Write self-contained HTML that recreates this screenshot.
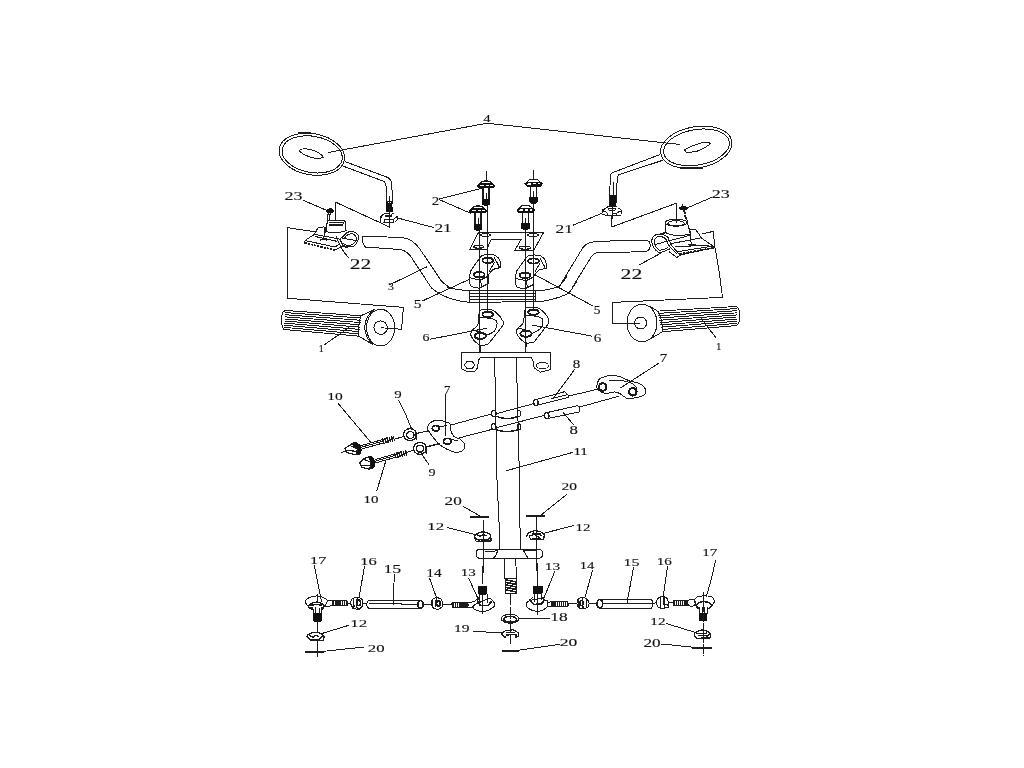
<!DOCTYPE html>
<html lang="en">
<head>
<meta charset="utf-8">
<title>Steering assembly parts diagram</title>
<style>
html,body{margin:0;padding:0;background:#fff;}
body{width:1024px;height:768px;overflow:hidden;}
svg{display:block;opacity:0.999;will-change:transform;}
.d{fill:none;stroke:#1c1c1c;stroke-linecap:round;stroke-linejoin:round;}
.d text{fill:#111;stroke:#111;stroke-width:0.12px;font-family:"Liberation Serif","DejaVu Serif",serif;}
.f{fill:#111;stroke:#111;}
.w{fill:#fff;}
</style>
</head>
<body>
<svg width="1024" height="768" viewBox="0 0 1024 768">
<rect width="1024" height="768" fill="#fff"/>
<g class="d" shape-rendering="crispEdges">
<g transform="translate(0 0) scale(1.0)" stroke-width="1">
<!-- leader for 4 -->
<path d="M328.3,152.5 L487.1,123.2 L680,144.5"/>
<!-- centre lines through bolts/clamps -->
<path d="M487.5,205 L487.5,311 M479.5,230.5 L479.5,352.5 M533.5,204 L533.5,311 M525.5,230.5 L525.5,352.5"/>
<!-- steering stem edges -->
<path d="M494.5,357.5 L494.5,376 L495.5,378 L495.5,400 L497,480 L499.4,530 L499.5,549.4"/>
<path d="M516.5,357.5 L516.5,382 L517.5,384 L517.5,400 L519.5,480 L519.5,526 L520.6,530 L520.75,549.4"/>

</g>
<g transform="translate(0 0) scale(1.0)" stroke-width="1">
<!-- part number labels -->
<text x="483.2" y="122.2" font-size="10.1" textLength="7.3" lengthAdjust="spacingAndGlyphs">4</text>
<text x="284.6" y="200.3" font-size="13.2" textLength="18.0" lengthAdjust="spacingAndGlyphs">23</text>
<text x="349.8" y="268.5" font-size="14.2" textLength="21.4" lengthAdjust="spacingAndGlyphs">22</text>
<text x="434.4" y="232.0" font-size="12.0" textLength="17.4" lengthAdjust="spacingAndGlyphs">21</text>
<text x="431.8" y="205.0" font-size="11.8" textLength="7.5" lengthAdjust="spacingAndGlyphs">2</text>
<text x="388.0" y="290.4" font-size="11.2" textLength="5.9" lengthAdjust="spacingAndGlyphs">3</text>
<text x="555.5" y="233.0" font-size="12.2" textLength="17.4" lengthAdjust="spacingAndGlyphs">21</text>
<text x="620.5" y="278.9" font-size="13.9" textLength="21.8" lengthAdjust="spacingAndGlyphs">22</text>
<text x="711.7" y="197.6" font-size="12.0" textLength="18.0" lengthAdjust="spacingAndGlyphs">23</text>
<text x="318.8" y="351.8" font-size="9.7" textLength="5.0" lengthAdjust="spacingAndGlyphs">1</text>
<text x="716.0" y="349.9" font-size="11.1" textLength="5.5" lengthAdjust="spacingAndGlyphs">1</text>
<text x="413.8" y="307.8" font-size="11.6" textLength="7.8" lengthAdjust="spacingAndGlyphs">5</text>
<text x="593.7" y="313.6" font-size="12.0" textLength="6.7" lengthAdjust="spacingAndGlyphs">5</text>
<text x="422.6" y="341.3" font-size="10.8" textLength="7.0" lengthAdjust="spacingAndGlyphs">6</text>
<text x="593.7" y="341.8" font-size="12.1" textLength="7.6" lengthAdjust="spacingAndGlyphs">6</text>
<text x="659.8" y="361.8" font-size="11.5" textLength="7.5" lengthAdjust="spacingAndGlyphs">7</text>
<text x="443.9" y="394.1" font-size="11.7" textLength="6.4" lengthAdjust="spacingAndGlyphs">7</text>
<text x="572.8" y="368.0" font-size="11.8" textLength="7.5" lengthAdjust="spacingAndGlyphs">8</text>
<text x="569.4" y="434.0" font-size="12.6" textLength="8.4" lengthAdjust="spacingAndGlyphs">8</text>
<text x="394.2" y="397.8" font-size="11.1" textLength="7.4" lengthAdjust="spacingAndGlyphs">9</text>
<text x="428.6" y="475.5" font-size="11.1" textLength="7.0" lengthAdjust="spacingAndGlyphs">9</text>
<text x="327.3" y="400.0" font-size="10.1" textLength="15.5" lengthAdjust="spacingAndGlyphs">10</text>
<text x="363.6" y="502.8" font-size="10.0" textLength="14.9" lengthAdjust="spacingAndGlyphs">10</text>
<text x="573.4" y="455.0" font-size="10.9" textLength="14.5" lengthAdjust="spacingAndGlyphs">11</text>
<text x="427.3" y="530.2" font-size="10.2" textLength="16.8" lengthAdjust="spacingAndGlyphs">12</text>
<text x="575.5" y="531.3" font-size="10.9" textLength="14.9" lengthAdjust="spacingAndGlyphs">12</text>
<text x="350.3" y="627.0" font-size="10.9" textLength="17.0" lengthAdjust="spacingAndGlyphs">12</text>
<text x="650.3" y="625.2" font-size="10.3" textLength="15.2" lengthAdjust="spacingAndGlyphs">12</text>
<text x="460.8" y="575.6" font-size="10.4" textLength="15.0" lengthAdjust="spacingAndGlyphs">13</text>
<text x="544.8" y="570.0" font-size="11.1" textLength="15.5" lengthAdjust="spacingAndGlyphs">13</text>
<text x="426.3" y="577.0" font-size="11.8" textLength="15.5" lengthAdjust="spacingAndGlyphs">14</text>
<text x="579.7" y="569.0" font-size="11.1" textLength="14.6" lengthAdjust="spacingAndGlyphs">14</text>
<text x="383.4" y="573.0" font-size="12.4" textLength="17.9" lengthAdjust="spacingAndGlyphs">15</text>
<text x="623.4" y="565.9" font-size="11.1" textLength="16.1" lengthAdjust="spacingAndGlyphs">15</text>
<text x="360.3" y="564.6" font-size="11.2" textLength="16.5" lengthAdjust="spacingAndGlyphs">16</text>
<text x="656.7" y="565.0" font-size="10.4" textLength="15.1" lengthAdjust="spacingAndGlyphs">16</text>
<text x="310.1" y="564.0" font-size="10.4" textLength="16.2" lengthAdjust="spacingAndGlyphs">17</text>
<text x="702.3" y="556.4" font-size="10.6" textLength="15.0" lengthAdjust="spacingAndGlyphs">17</text>
<text x="550.3" y="620.6" font-size="12.0" textLength="17.4" lengthAdjust="spacingAndGlyphs">18</text>
<text x="454.1" y="632.2" font-size="10.7" textLength="15.5" lengthAdjust="spacingAndGlyphs">19</text>
<text x="444.6" y="505.0" font-size="11.8" textLength="17.2" lengthAdjust="spacingAndGlyphs">20</text>
<text x="561.5" y="490.0" font-size="11.1" textLength="15.5" lengthAdjust="spacingAndGlyphs">20</text>
<text x="559.7" y="645.6" font-size="11.2" textLength="17.6" lengthAdjust="spacingAndGlyphs">20</text>
<text x="367.8" y="651.8" font-size="10.7" textLength="16.8" lengthAdjust="spacingAndGlyphs">20</text>
<text x="643.5" y="647.0" font-size="11.5" textLength="17.2" lengthAdjust="spacingAndGlyphs">20</text>

</g>
<g transform="translate(256 192) scale(0.125)" stroke-width="8">
<!-- label 23 + leader -->
<path d="M375,65 L572,150"/>
<!-- bracket lines -->
<path d="M638,225 L638,82 L1068,280 L1068,222"/>
<path d="M470,318 L250,285 L250,850 L1179,923 L1165,1098 L1000,1086"/>
<!-- 22 label + leader -->
<path d="M640,352 Q690,480 742,525"/>

</g>
<g transform="translate(256 288) scale(0.125)" stroke-width="8">
<!-- left grip -->
<path d="M235,180 L840,222 M234,197 L838,240 M233,214 L836,258 M232,231 L833,276 M231,248 L831,294 M229,264 L829,313 M228,281 L827,331 M227,298 L824,349 M226,315 L822,367 M225,332 L820,385"/>
<path d="M235,180 Q200,190 205,260 Q205,320 225,332"/>
<path d="M840,222 Q815,300 820,385"/>
<path d="M840,222 L945,172 M820,385 L935,452"/>
<path d="M945,172 Q870,230 870,315 Q872,400 935,452"/>
<path d="M885.0,317.0 A112,147 0 1 0 1109.0,317.0 A112,147 0 1 0 885.0,317.0 Z"/>
<path d="M943.0,317.0 A54,54 0 1 0 1051.0,317.0 A54,54 0 1 0 943.0,317.0 Z"/>
<!-- label 1 -->
<path d="M545,455 L740,320"/>

</g>
<g transform="translate(256 96) scale(0.125)" stroke-width="8">
<!-- left mirror -->
<path d="M186.0,420.0 A265,165 10 1 0 708.0,512.0 A265,165 10 1 0 186.0,420.0 Z"/>
<path d="M209.7,424.8 A243,144 10 1 0 688.3,509.2 A243,144 10 1 0 209.7,424.8 Z"/>
<path d="M345,437 Q368,412 430,428 Q505,442 540,490 Q500,508 440,490 Q368,468 345,437 Z"/>
<path d="M345,294 L440,297" stroke-width="12"/>
<!-- stem -->
<path d="M712,525 L1045,648 Q1078,660 1086,700 L1093,864"/>
<path d="M700,562 L1015,680 Q1038,690 1040,720 L1046,864"/>

</g>
<g transform="translate(288 544) scale(0.125)" stroke-width="8">
<!-- labels 17,16,15 left -->
<path d="M210,170 L268,460"/>
<path d="M612,178 L568,430"/>
<path d="M850,240 L843,485"/>
<!-- ball joint 17 left -->
<path d="M138,462 Q145,425 228,415 Q290,420 318,455 Q300,500 270,510 M138,462 Q150,500 185,510"/>
<path d="M165,500 Q170,470 228,465 Q285,470 290,498 Q280,525 268,520 M165,500 Q175,525 195,520" stroke-width="12"/>
<path d="M185,490 Q228,478 270,490" stroke-width="12"/>
<path d="M198,505 L205,560 M268,505 L268,560 M222,510 L222,555 M248,510 L248,555"/>
<rect class="f" x="200" y="558" width="70" height="58" rx="8"/>
<path d="M235,400 L235,470 M235,616 L235,700 M235,780 L235,900"/>
<path d="M318,455 L355,452 M300,498 L355,495"/>
<!-- threaded rod -->
<rect x="355" y="452" width="120" height="43" rx="10"/>
<path d="M360,474 L472,474" stroke-width="34" stroke-linecap="butt" stroke-dasharray="11 6"/>
<path d="M475,472 L498,472"/>
<!-- nut 16 -->
<path d="M498,472 L515,435 L570,425 L598,450 L600,495 L565,525 L520,515 Z"/>
<path d="M525,440 L528,505 M555,428 L545,500 L565,522" stroke-width="10"/>
<path d="M549.0,470.0 A16,22 0 1 0 581.0,470.0 A16,22 0 1 0 549.0,470.0 Z" stroke-width="14"/>
<path d="M600,472 L630,472"/>
<!-- tube 15 -->
<path d="M645,452 L1060,452 Q1085,455 1087,483 Q1085,512 1060,515 L645,515 Q630,500 630,483 Q630,465 645,452 Z"/>
<path d="M1038.0,483.0 A22,30 0 1 0 1082.0,483.0 A22,30 0 1 0 1038.0,483.0 Z" stroke-width="12"/>
<path d="M640,472 L910,478 M910,486 L1040,486"/>
<path d="M1087,483 L1146,483"/>
<!-- nut 12 bottom left, 12 label -->
<path d="M150,740 Q160,715 215,705 Q275,712 288,740 L285,770 L180,772 Z" stroke-width="10"/>
<path d="M175,735 L200,745 L220,730 L245,742 M160,750 L190,770 M275,740 L250,765 L200,762" stroke-width="11"/>
<path d="M275,715 L488,650"/>
<!-- bar 20 left -->
<path d="M135,862 L290,862" stroke-width="15" stroke-linecap="butt"/>
<path d="M290,858 L610,824"/>

</g>
<g transform="translate(296 200) scale(0.078125)" stroke-width="12.8">
<!-- screw 23 left -->
<path class="f" d="M385,135 L440,105 L482,140 L455,165 L400,160 Z"/>
<path d="M412,165 L398,300 M438,168 L425,262" stroke-dasharray="22 10" stroke-width="14"/>
<!-- housing -->
<path d="M415,262 L615,262 L635,280 L635,380 M395,300 L385,405 Q500,440 635,395 L700,400"/>
<path d="M420,282 L608,282 L600,318"/>
<path d="M422,320 L600,318" stroke-width="20" stroke-linecap="butt"/>
<path d="M235,440 L285,350 L360,345 L372,410"/>
<path d="M110,545 L120,515 L235,440 L560,500 L600,470"/>
<path d="M130,522 L500,602 L560,560"/>
<path d="M108,548 L500,642" stroke-width="22" stroke-dasharray="30 12" stroke-linecap="butt"/>
<path d="M500,642 L590,592 L660,610"/>
<path d="M310,515 Q350,495 390,512" stroke-width="18"/>
<!-- ring -->
<path d="M605,470 Q640,405 710,402 Q790,415 800,465 Q800,540 740,590 Q680,615 600,580"/>
<path d="M625,482 Q660,432 720,430 Q772,450 775,500 Q760,560 690,582 Q650,585 610,560"/>
<path d="M600,490 L780,520 M560,500 L600,580"/>
<path d="M395,300 L372,410 L352,500" stroke-dasharray="26 10" stroke-width="14"/>
<path d="M250,468 L520,528 M560,500 L640,420 M600,580 L640,600"/>

</g>
<g transform="translate(320 384) scale(0.125)" stroke-width="8">
<!-- 10 upper -->
<path d="M145,155 L405,465"/>
<!-- bolt 10 upper -->
<path class="f" d="M250,478 L285,465 L320,490 L332,530 L318,560 L290,565 L300,520 Z"/>
<path d="M200,515 L235,490 L285,470 M200,515 L215,548 L270,562 L318,560 M235,490 L300,520 L290,565 M215,530 L290,540" stroke-width="10"/>
<path d="M170,548 L205,540"/>
<path d="M330,492 L500,445 M335,520 L505,472 M332,505 L500,458"/>
<path d="M500,458 L595,435" stroke-width="44" stroke-linecap="butt" stroke-dasharray="13 5"/>
<path d="M600,440 L670,420"/>
<!-- washer 9 upper -->
<path d="M668.0,405.0 A52,48 0 1 0 772.0,405.0 A52,48 0 1 0 668.0,405.0 Z" stroke-width="11"/>
<path d="M692.0,408.0 A30,27 0 1 0 752.0,408.0 A30,27 0 1 0 692.0,408.0 Z" stroke-width="11"/>
<path d="M768,400 L770,440" stroke-width="14"/>
<path d="M775,395 L865,375"/>
<path d="M628,130 L680,230 L735,365"/>
<!-- bolt 10 lower -->
<path class="f" d="M385,585 L410,582 L438,612 L440,650 L415,678 L400,640 L405,610 Z" />
<path d="M318,632 L345,600 L392,582 M318,632 L335,668 L390,680 L420,675 M345,600 L405,625 L400,675 M330,650 L400,650" stroke-width="10"/>
<path d="M440,605 L600,560 M442,632 L610,585 M440,618 L600,572"/>
<path d="M595,575 L700,548" stroke-width="44" stroke-linecap="butt" stroke-dasharray="13 5"/>
<path d="M700,545 L750,530"/>
<!-- washer 9 lower -->
<path d="M748.0,515.0 A52,48 0 1 0 852.0,515.0 A52,48 0 1 0 748.0,515.0 Z" stroke-width="11"/>
<path d="M770.0,518.0 A30,27 0 1 0 830.0,518.0 A30,27 0 1 0 770.0,518.0 Z" stroke-width="11"/>
<path d="M848,510 L850,550" stroke-width="14"/>
<path d="M855,500 L940,480"/>
<path d="M822,575 L868,640"/>
<!-- 10 lower label -->
<path d="M525,620 L455,853"/>
<!-- 7 left label + leader -->
<path d="M1003,80 L1003,413"/>

</g>
<g transform="translate(364 196) scale(0.0390625)" stroke-width="25.6">
<!-- mirror thread + nut 21 left -->
<path class="f" stroke="none" d="M568,135 L715,135 L715,280 L740,290 L740,400 L568,400 Z"/>
<path class="w" stroke="none" d="M612,152 L640,152 L640,180 L612,180 Z M668,152 L694,152 L694,180 L668,180 Z"/>
<path d="M650,0 L650,768"/>
<path d="M420,660 L425,540 Q470,445 640,438 M730,445 L760,445"/>
<path d="M545,512 L700,512 L705,490" stroke-width="40"/>
<path d="M525,610 L750,610 L750,680 L495,680 L525,650 Z" stroke-width="32"/>
<path d="M775,575 L850,525 L862,600 L800,655" stroke-width="30"/>
<path d="M417.0,535.0 A18,18 0 1 0 453.0,535.0 A18,18 0 1 0 417.0,535.0 Z" class="f" stroke="none"/>

</g>
<g transform="translate(384 192) scale(0.125)" stroke-width="8">
<path d="M110,208 L400,285"/>
<!-- label 2 + leaders -->
<path d="M445,55 L782,-30 M445,62 L692,170"/>
<!-- handlebar left bend -->
<path d="M-170,352 Q-185,398 -150,440 L130,460 Q190,470 230,540 L380,768"/>
<path d="M-170,352 L150,365 Q230,375 290,460 L450,700 Q490,750 540,768"/>
<!-- 3 leader -->
<path d="M340,600 L40,745"/>


</g>
<g transform="translate(384 544) scale(0.125)" stroke-width="8">
<!-- nut 14 left -->
<path d="M365,275 L420,430"/>
<path d="M378,482 L385,445 L420,425 L455,440 L470,470 L465,505 L430,525 L395,515 Z"/>
<path d="M385,450 L392,510 M420,428 L410,500" stroke-width="10"/>
<path d="M421.0,476.0 A14,20 0 1 0 449.0,476.0 A14,20 0 1 0 421.0,476.0 Z" stroke-width="13"/>
<path d="M470,483 L545,483"/>
<rect x="545" y="465" width="125" height="45" rx="10"/>
<path d="M550,488 L668,488" stroke-width="36" stroke-linecap="butt" stroke-dasharray="11 6"/>
<path d="M670,470 L722,460 M670,505 L710,510"/>
<!-- 13 left label handled elsewhere -->

</g>
<g transform="translate(416 400) scale(0.125)" stroke-width="8">
<!-- bracket 7 left -->
<path d="M95,215 Q100,185 140,168 Q185,155 240,175 Q275,185 280,205 Q268,240 300,290 Q320,305 350,312 Q385,335 390,362 Q390,395 365,410 Q330,425 300,415 Q240,395 190,360 Q150,320 95,240 Z"/>
<path d="M130.0,226.0 A28,22 0 1 0 186.0,226.0 A28,22 0 1 0 130.0,226.0 Z" stroke-width="14"/>
<path d="M220.0,330.0 A30,22 0 1 0 280.0,330.0 A30,22 0 1 0 220.0,330.0 Z" stroke-width="14"/>
<path d="M190,212 L245,205 M283,318 L330,322"/>
<!-- rods through bracket -->
<path d="M280,200 L604,112 M350,302 L604,236 M90,375 L190,350"/>

</g>
<g transform="translate(448 160) scale(0.125)" stroke-width="8">
<defs>
<g id="bolt">
<path d="M-48,30 Q-44,6 -10,3 L14,3 Q44,6 50,30" stroke-width="9"/>
<path class="f" stroke="none" d="M-70,40 L-52,26 L54,26 L72,40 L56,58 L-54,58 Z"/>
<path class="w" stroke="none" d="M-46,32 L-18,32 L-18,46 L-50,46 Z M-4,32 L20,32 L20,44 L-4,44 Z M32,32 L52,34 L56,44 L32,44 Z"/>
<path d="M-24,58 L-24,150 M24,58 L24,150" stroke-width="10"/>
<path d="M2,105 L2,140" stroke-width="9"/>
<path class="f" stroke="none" d="M-29,148 L29,148 L29,186 Q20,200 0,198 Q-20,200 -29,186 Z"/>
</g>
</defs>
<use href="#bolt" x="304" y="165"/>
<use href="#bolt" x="240" y="365"/>
<use href="#bolt" x="684" y="150"/>
<use href="#bolt" x="620" y="360"/>
<path d="M308,95 L308,165 M684,80 L684,150" />
<!-- plate -->
<path d="M245,578 L765,578 L685,725 L535,722 L585,635 L345,635 L310,718 L175,715 Z"/>
<path d="M260.0,600.0 A40,10 0 1 0 340.0,600.0 A40,10 0 1 0 260.0,600.0 Z"/>
<path d="M207.0,694.0 A38,12 0 1 0 283.0,694.0 A38,12 0 1 0 207.0,694.0 Z" stroke-width="11"/>
<path d="M632.0,600.0 A48,10 0 1 0 728.0,600.0 A48,10 0 1 0 632.0,600.0 Z"/>
<path d="M570.0,702.0 A45,12 0 1 0 660.0,702.0 A45,12 0 1 0 570.0,702.0 Z" stroke-width="11"/>

</g>
<g transform="translate(448 240) scale(0.125)" stroke-width="8">
<!-- upper clamps (5) -->
<defs>
<g id="c5">
<path d="M-48,-38 Q-20,-50 12,-48 Q45,-48 62,-38 Q90,-20 97,-3 Q106,30 102,57 L42,72 L2,117 L2,187 L-68,222 Q-110,222 -133,207 Q-150,180 -148,157 Q-148,120 -133,77 L-68,-13 Z"/>
<path d="M-42.0,0.0 A42,20 0 1 0 42.0,0.0 A42,20 0 1 0 -42.0,0.0 Z" stroke-width="15"/>
<path d="M-111.0,115.0 A43,21 0 1 0 -25.0,115.0 A43,21 0 1 0 -111.0,115.0 Z" stroke-width="15"/>
<path d="M52,-25 L92,52 M12,87 L52,17 M-143,137 L-118,147 L-58,157 L-48,210 M-58,157 L2,127"/>
</g>
<g id="c6">
<path d="M-65,-33 Q-20,-42 35,-35 Q90,-8 123,57 Q127,87 115,97 L5,237 Q-25,249 -55,247 Q-110,227 -135,167 Q-137,137 -125,127 Q-85,97 -77,77 L-75,27 Z"/>
<path d="M-42.0,0.0 A42,20 0 1 0 42.0,0.0 A42,20 0 1 0 -42.0,0.0 Z" stroke-width="15"/>
<path d="M-106.0,172.0 A46,24 0 1 0 -14.0,172.0 A46,24 0 1 0 -106.0,172.0 Z" stroke-width="16"/>
<path d="M-55,27 Q45,27 70,52 Q85,87 55,132 Q25,157 -5,165 M-125,127 L-60,140"/>
</g>
</defs>
<use href="#c5" x="318" y="163"/>
<use href="#c5" x="684" y="168"/>
<use href="#c6" x="318" y="595"/>
<use href="#c6" x="684" y="578"/>
<!-- handlebar center -->
<path d="M168,405 L700,408 M168,430 L700,432 M168,455 L700,456 M168,478 L700,478 M168,497 L700,495 M168,405 L168,497 M700,408 L700,495"/>
<path d="M0,380 Q60,398 168,405 M700,408 Q790,405 880,375 Q915,350 950,290"/>
<path d="M-130,380 Q-60,460 130,495 L168,497 M700,495 Q820,492 960,430 Q990,400 1024,340"/>
<!-- leaders for 5 -->
<path d="M-208,489 L170,315 M700,280 L1152,524"/>
<!-- leaders for 6 -->
<path d="M-144,794 L308,706 M677,681 L1152,769"/>

</g>
<g transform="translate(448 336) scale(0.125)" stroke-width="8">
<!-- stubs from lower clamps -->
<path d="M260,78 L260,130 M628,55 L620,130"/>
<!-- stem top bracket -->
<path d="M108,130 L820,130 L820,268 L740,290 L690,255 L680,200 L665,172 L258,172 L250,180 L232,260 L215,283 L150,283 L108,262 Z"/>
<path d="M132,232 L150,205 L195,205 L214,232 L195,260 L150,260 Z"/>
<path d="M707.0,237.0 A48,25 0 1 0 803.0,237.0 A48,25 0 1 0 707.0,237.0 Z"/>
<!-- stem -->


<!-- rings -->
<path d="M348.0,620.0 A18,24 0 1 0 384.0,620.0 A18,24 0 1 0 348.0,620.0 Z" stroke-width="10"/>
<path d="M554.0,620.0 A14,24 0 1 0 582.0,620.0 A14,24 0 1 0 554.0,620.0 Z" stroke-width="10"/>
<path d="M380,640 Q470,680 556,645" stroke-width="12"/>
<path d="M348.0,725.0 A18,24 0 1 0 384.0,725.0 A18,24 0 1 0 348.0,725.0 Z" stroke-width="10"/>
<path d="M554.0,725.0 A14,24 0 1 0 582.0,725.0 A14,24 0 1 0 554.0,725.0 Z" stroke-width="10"/>
<path d="M382,750 Q470,780 558,750" stroke-width="12"/>
<!-- rods -->
<path d="M385,622 L690,540 M385,735 L770,635"/>
<!-- sleeve 8 upper -->
<path d="M700,510 L935,445 L965,475 L965,490 L710,555"/>
<path d="M685.0,532.0 A18,25 0 1 0 721.0,532.0 A18,25 0 1 0 685.0,532.0 Z" stroke-width="10"/>
<path d="M830,500 L960,468"/>
<path d="M968,480 L1188,428"/>
<!-- sleeve 8 lower -->
<path d="M795,612 L1035,558 L1055,570 L1055,606 L800,660"/>
<path d="M772.0,637.0 A18,25 0 1 0 808.0,637.0 A18,25 0 1 0 772.0,637.0 Z" stroke-width="10"/>
<path d="M1055,568 L1368,481"/>
<!-- 8 labels -->
<path d="M1013,268 L838,503"/>
<path d="M918,608 L1003,708"/>
<!-- bracket 7 right -->
<path d="M1198,368 Q1210,330 1248,328 Q1290,310 1328,313 Q1390,325 1448,358 L1528,378 Q1575,400 1583,440 Q1585,470 1558,478 Q1500,505 1428,498 Q1400,480 1388,468 Q1350,445 1328,448 Q1270,465 1230,452 Q1195,430 1188,408 Z"/>
<path d="M1208.0,408.0 A30,30 0 1 0 1268.0,408.0 A30,30 0 1 0 1208.0,408.0 Z" stroke-width="17"/>
<path d="M1448.0,446.0 A30,30 0 1 0 1508.0,446.0 A30,30 0 1 0 1448.0,446.0 Z" stroke-width="17"/>
<path d="M1288,358 Q1370,345 1458,373 Q1500,390 1508,418"/>

<!-- label 11 -->
<path d="M466,1078 L995,932"/>

</g>
<g transform="translate(448 480) scale(0.125)" stroke-width="8">
<!-- 20 left upper -->
<path d="M120,210 L250,285"/>
<path d="M178,296 L328,296" stroke-width="17" stroke-linecap="butt"/>
<path d="M285,320 L285,740"/>
<!-- nut 12 left -->
<defs><g id="n12">
<path d="M-70,0 Q-60,-35 0,-40 Q55,-35 62,-5 L65,32 L-55,35 Z" stroke-width="10"/>
<path d="M-45,-15 L-20,-5 L0,-20 L25,-8 M-60,10 L-30,30 M62,-5 L40,20 L-30,22" stroke-width="11"/>
</g></defs>
<use href="#n12" x="280" y="455"/>
<path d="M-5,380 L215,435"/>
<!-- 20 right upper -->
<path d="M950,115 L745,280"/>
<path d="M625,290 L775,290" stroke-width="13" stroke-linecap="butt"/>
<path d="M705,300 L705,620 L715,768"/>
<!-- nut 12 right -->
<path d="M630,450 Q635,415 700,405 Q760,412 770,440 L765,475 L665,478 Q650,465 655,445 Q700,430 745,440" stroke-width="10"/>
<path d="M680,425 L740,428 M700,440 L740,470 L680,470" stroke-width="11"/>
<path d="M770,425 L1005,365"/>
<!-- cross arm -->
<path d="M245,555 L735,555 Q758,560 758,590 Q758,618 735,625 L245,625 Q225,618 225,590 Q225,560 245,555 Z"/>
<path d="M300,575 L350,575 L400,560 L380,610 L360,625 M490,555 L600,560 L640,625 M610,562 L700,565"/>
<!-- lower shaft -->
<path d="M450,625 L450,790 M540,625 L550,790"/>

</g>
<g transform="translate(448 570) scale(0.125)" stroke-width="8">
<!-- shaft bottom + thread -->
<path d="M450,0 L450,68 L550,68 L550,0"/>
<path d="M462,68 L545,68 L545,190 L462,190 Z"/>
<path d="M465,80 L545,95 M465,100 L545,115 M465,120 L545,135 M465,140 L545,155 M465,160 L545,175" stroke-width="13"/>
<path d="M500,190 L500,590" stroke-dasharray="90 18"/>
<!-- washer 18 -->
<path d="M427.0,390.0 A70,36 0 1 0 567.0,390.0 A70,36 0 1 0 427.0,390.0 Z"/>
<path d="M447.0,394.0 A50,22 0 1 0 547.0,394.0 A50,22 0 1 0 447.0,394.0 Z" stroke-width="12"/>
<path d="M570,385 L810,385"/>
<!-- nut 19 -->
<path d="M428,512 L460,485 L520,478 L560,500 L565,530 L540,540 L545,515 L470,520 L455,540 Z" stroke-width="10"/>
<path d="M470,500 L530,498" stroke-width="12"/>
<path d="M200,490 L270,495 L430,500"/>
<!-- bar 20 center -->
<path d="M432,646 L580,644" stroke-width="16" stroke-linecap="butt"/>
<path d="M890,595 L575,640"/>
<!-- ball joint 13 left -->
<path d="M165,65 L245,240"/>
<path d="M275,-30 L275,110 M275,195 L275,350"/>
<rect class="f" x="243" y="128" width="68" height="66" rx="10"/>
<path d="M252,195 L255,262 M318,195 L318,262"/>
<path d="M210,252 L240,222 L255,230 M318,228 L340,225 L370,262 L375,285 Q340,325 275,335 Q220,325 195,300 L210,280 Z"/>
<path d="M240,262 L260,285 L320,282 L345,255 M235,240 L250,270" stroke-width="12"/>
<!-- threaded rod left -->
<path d="M0,275 L30,275"/>
<rect x="32" y="258" width="128" height="42" rx="10"/>
<path d="M36,279 L158,279" stroke-width="36" stroke-linecap="butt" stroke-dasharray="11 6"/>
<path d="M160,262 L210,252 M160,297 L200,300 L210,280"/>
<!-- ball joint 13 right -->
<path d="M715,-50 L715,128 M715,185 L715,360"/>
<rect class="f" x="682" y="128" width="70" height="58"/>
<path d="M690,186 L688,260 M748,186 L750,240"/>
<path d="M650,245 L680,215 M750,225 L775,240 L800,245 Q790,275 800,290 Q770,325 715,332 Q650,325 625,285 Q625,260 650,245 Z"/>
<path d="M655,240 L685,275 L745,272 L775,240 M760,220 L770,245" stroke-width="12"/>
<path d="M855,10 L765,230"/>
<!-- threaded rod right -->
<rect x="830" y="250" width="130" height="44" rx="10"/>
<path d="M834,272 L958,272" stroke-width="36" stroke-linecap="butt" stroke-dasharray="11 6"/>
<path d="M800,258 L830,255 M800,290 L830,290 M960,272 L1024,268"/>

</g>
<g transform="translate(512 192) scale(0.125)" stroke-width="8">
<!-- 21 right -->
<path d="M490,265 L720,170"/>
<!-- bracket -->
<path d="M798,190 L798,280 L1314,90 L1314,245"/>
<!-- handlebar right bend -->
<path d="M380,755 L570,440 Q600,405 670,395 L1060,385 Q1110,385 1105,430 Q1105,475 1060,478 L680,485 Q650,495 630,525 L480,768"/>

<!-- 22 right -->
<path d="M1024,580 L1189,490"/>

</g>
<g transform="translate(512 96) scale(0.125)" stroke-width="8">

</g>
<g transform="translate(528 544) scale(0.125)" stroke-width="8">
<!-- 14 right -->
<path d="M515,215 L455,430"/>
<path d="M390,478 L400,440 L435,425 L475,440 L490,475 L480,505 L440,520 L405,510 Z"/>
<path d="M405,445 L410,505 M435,428 L440,515 M465,440 L465,505" stroke-width="10"/>
<path d="M414.0,472.0 A14,20 0 1 0 442.0,472.0 A14,20 0 1 0 414.0,472.0 Z" stroke-width="13"/>
<path d="M318,480 L390,478 M490,475 L555,475"/>
<!-- tube 15 right -->
<path d="M575,442 L985,442 Q1000,455 1000,478 Q1000,505 985,515 L575,515"/>
<path d="M553.0,478.0 A22,34 0 1 0 597.0,478.0 A22,34 0 1 0 553.0,478.0 Z" stroke-width="14"/>
<path d="M600,472 L990,472"/>
<path d="M845,185 L790,480"/>
<path d="M1000,478 L1026,470"/>

</g>
<g transform="translate(592 190) scale(0.0390625)" stroke-width="25.6">
<!-- mirror thread + nut 21 right -->
<path class="f" stroke="none" d="M437,132 L612,132 L612,380 L585,410 L437,410 Z"/>
<path d="M525,410 L525,720"/>
<path d="M430,416 L630,416 M430,416 L275,520 M265,505 L272,572 M260,625 L330,630 L345,655 L740,655 M300,545 L350,550 L395,600 L395,650" stroke-width="28"/>
<path d="M420,495 Q420,470 470,470 L560,470 Q600,472 600,495 Q600,520 560,520 L470,520 Q420,520 420,495 Z" stroke-width="28"/>
<path d="M680,465 L760,520 L760,610 M650,572 L740,542 M540,600 L630,600 L630,645" stroke-width="28"/>
<path class="f" stroke="none" d="M262,495 L320,495 L280,540 Z"/>
<path d="M545,-200 L545,132"/>

</g>
<g transform="translate(624 576) scale(0.125)" stroke-width="8">
<!-- nut 16 right -->
<path d="M258,215 L268,180 L305,160 L345,178 L358,212 L355,250 L300,262 L268,245 Z"/>
<path d="M290,170 L292,250 M320,165 L322,255 M335,230 L355,232" stroke-width="11"/>
<path d="M358,212 L392,212"/>
<rect x="392" y="195" width="118" height="43" rx="8"/>
<path d="M396,216 L508,216" stroke-width="34" stroke-linecap="butt" stroke-dasharray="11 6"/>
<path d="M510.0,214.0 A30,30 0 1 0 570.0,214.0 A30,30 0 1 0 510.0,214.0 Z"/>
<!-- ball joint 17 right -->
<path d="M560,195 L585,165 L635,158 L700,162 L728,200 L700,245 L680,262 M560,195 L580,250 L600,265"/>
<path d="M580,235 Q590,205 640,205 Q690,208 700,235 Q690,262 672,262 M580,235 Q590,262 605,262" stroke-width="12"/>
<path d="M605,250 L605,300 M665,250 L665,300 M625,255 L625,295 M645,255 L645,295"/>
<rect class="f" x="600" y="298" width="63" height="58"/>
<path d="M635,130 L635,640" stroke-dasharray="70 14"/>
<!-- labels -->
<path d="M348,-77 L313,168"/>
<path d="M733,-127 L703,8 L658,168"/>
<!-- 12 right -->
<path d="M338,380 L565,450"/>
<path d="M562,468 Q570,440 625,432 Q680,438 692,462 L690,495 L580,498 Q565,485 562,468 Z" stroke-width="10"/>
<path d="M580,460 L660,458 M600,475 L670,478 M690,462 L660,490" stroke-width="12"/>
<!-- 20 right -->
<path d="M298,545 L350,548 L550,570"/>
<path d="M545,573 L700,573" stroke-width="15" stroke-linecap="butt"/>

</g>
<g transform="translate(640 192) scale(0.125)" stroke-width="8">
<!-- 23 right -->
<path d="M570,45 L372,130"/>
<!-- bracket to grip -->
<path d="M500,335 L585,315 L600,450 Q640,650 660,843 L-219,883 L-219,1051 L0,1051"/>

</g>
<g transform="translate(640 288) scale(0.125)" stroke-width="8">
<!-- right grip -->
<path d="M140,185 L770,148 M144,203 L771,165 M149,222 L771,182 M153,240 L772,199 M158,258 L772,216 M162,277 L773,232 M167,295 L773,249 M171,313 L774,266 M176,332 L774,283 M180,350 L775,300"/>
<path d="M770,148 Q800,165 798,225 Q798,280 775,300"/>
<path d="M140,185 Q185,260 180,350"/>
<path d="M140,185 L80,148 M180,350 L75,412"/>
<path d="M80,148 Q135,210 135,280 Q135,360 75,412"/>
<path d="M-104.0,280.0 A120,150 0 1 0 136.0,280.0 A120,150 0 1 0 -104.0,280.0 Z"/>
<path d="M-43.0,280.0 A48,48 0 1 0 53.0,280.0 A48,48 0 1 0 -43.0,280.0 Z"/>
<path d="M490,245 L605,395"/>
<path d="M150,602 L-153,797"/>

</g>
<g transform="translate(640 96) scale(0.125)" stroke-width="8">
<!-- right mirror -->
<path d="M166.4,461.0 A288,163 -10 1 0 733.6,361.0 A288,163 -10 1 0 166.4,461.0 Z"/>
<path d="M190.0,457.2 A266,142 -10 1 0 714.0,364.8 A266,142 -10 1 0 190.0,457.2 Z"/>
<path d="M355,432 Q400,402 500,372 Q545,366 566,380 Q540,405 460,440 Q400,455 370,448 Z"/>
<path d="M330,576 L500,576" stroke-width="12"/>
<!-- stem -->
<path d="M160,468 L-224,615 Q-238,622 -238,650 L-244,864"/>
<path d="M180,515 L-170,630 Q-180,636 -182,660 L-192,864"/>

</g>
<g transform="translate(644 200) scale(0.078125)" stroke-width="12.8">
<!-- screw 23 right -->
<path class="f" d="M450,105 L475,88 L530,88 L558,112 L540,128 L470,125 Z"/>
<path d="M490,55 L490,90"/>
<path d="M512,128 L540,250" stroke-width="26" stroke-dasharray="24 8" stroke-linecap="butt"/>
<path d="M548,250 L590,430 L605,560 M565,330 L600,430"/>
<!-- cylinder -->
<path d="M270.0,290.0 A140,45 0 1 0 550.0,290.0 A140,45 0 1 0 270.0,290.0 Z"/>
<path d="M305.0,296.0 A105,30 0 1 0 515.0,296.0 A105,30 0 1 0 305.0,296.0 Z"/>
<path d="M330,330 L500,325" stroke-width="16"/>
<path d="M272,300 L278,418 Q400,480 600,435"/>
<!-- ring clamp -->
<path d="M100,540 Q95,470 160,440 Q250,425 310,480 Q330,540 350,580 L440,680"/>
<path d="M130,540 Q130,490 180,468 Q250,460 285,510 Q305,560 330,600 L420,690"/>
<path d="M100,540 Q105,620 190,672 Q260,670 330,625 M130,545 Q140,610 200,645 Q250,640 300,612"/>
<!-- plate -->
<path d="M600,375 L660,375 L740,490 L885,590 L890,612 L470,702 L420,735 L320,662"/>
<path d="M450,692 L890,612" stroke-width="22" stroke-dasharray="34 12" stroke-linecap="butt"/>
<path d="M130,572 L590,452 M330,562 L740,482 M400,600 L860,575 M440,660 L880,590"/>
<path d="M570,575 Q615,555 660,575 Q615,600 570,575 Z" stroke-width="14"/>
<path d="M210,432 L275,418" stroke-width="16"/>

</g>
</g>
</svg>
</body>
</html>
